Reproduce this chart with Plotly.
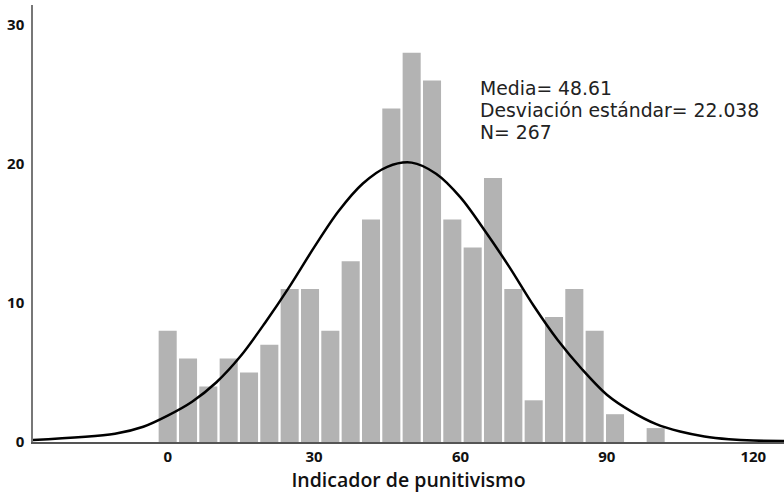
import plotly.graph_objects as go

# Histogram data (bin centers and counts)
bin_centers = [0, 4.17, 8.33, 12.5, 16.67, 20.83, 25, 29.17, 33.33, 37.5, 41.67, 45.83,
               50, 54.17, 58.33, 62.5, 66.67, 70.83, 75, 79.17, 83.33, 87.5, 91.67, 95.83, 100]
counts = [8, 6, 4, 6, 5, 7, 11, 11, 8, 13, 16, 24, 28, 26, 16, 14, 19, 11, 3, 9, 11, 8, 2, 0, 1]

# Normal curve points
curve_x = [-27.6, -10.8, -5, 0, 5, 10, 15, 20, 25, 30, 35, 40, 45, 50, 55, 60, 65,
           70, 75, 80, 85, 90, 95, 100, 105, 110, 115, 120, 126.3]
curve_y = [0.15, 0.6, 1.1, 1.9, 2.9, 4.3, 6.2, 8.6, 11.2, 14.0, 16.6, 18.6, 19.8, 20.1,
           19.3, 17.6, 15.2, 12.6, 9.8, 7.3, 5.2, 3.4, 2.2, 1.3, 0.75, 0.4, 0.2, 0.1, 0.08]

x_ticks = [0, 30, 60, 90, 120]
y_ticks = [0, 10, 20, 30]
x_title = "Indicador de punitivismo"
stats_lines = ["Media= 48.61", "Desviación estándar= 22.038", "N= 267"]

L, R, T, B = 33, 0, 5, 53
W, H = 784, 495
PW, PH = W - L - R, H - T - B

fig = go.Figure()
fig.add_trace(go.Bar(x=bin_centers, y=counts, width=3.7,
                     marker=dict(color="#b3b3b3", line=dict(width=0)),
                     showlegend=False, hoverinfo="x+y"))
fig.add_trace(go.Scatter(x=curve_x, y=curve_y, mode="lines",
                         line=dict(color="black", width=2.5, shape="spline", smoothing=0.9),
                         showlegend=False, hoverinfo="skip"))

annotations = []
for i, line in enumerate(stats_lines):
    yc = 88 + i * 22.5  # pixel centre of each line
    annotations.append(dict(text=line, xref="paper", yref="paper",
                            x=(478 - L) / PW, y=(H - B - yc) / PH,
                            xanchor="left", yanchor="middle", align="left", showarrow=False,
                            font=dict(family="DejaVu Sans", size=18.8, color="#222")))

fig.update_layout(
    width=W, height=H,
    margin=dict(l=L, r=R, t=T, b=B),
    paper_bgcolor="white", plot_bgcolor="white",
    font=dict(family="Open Sans", color="#111"),
    xaxis=dict(range=[-27.6, 126.3], tickvals=x_ticks, showgrid=False, zeroline=False,
               showline=True, linecolor="#555", linewidth=1.5, ticks="", automargin=False,
               tickfont=dict(family="Open Sans", size=15, weight=700, color="#111"),
               title=dict(text=x_title, standoff=4,
                          font=dict(family="Open Sans", size=19.5, weight=600, color="#111"))),
    yaxis=dict(range=[0, 31.44], tickvals=y_ticks, showgrid=False, zeroline=False,
               showline=True, linecolor="#777", linewidth=1.5, ticks="", automargin=False,
               ticklabelstandoff=4,
               tickfont=dict(family="Open Sans", size=15, weight=700, color="#111")),
    annotations=annotations,
)

fig.write_html("out.html", config={"displayModeBar": False},
               post_script="document.body.style.margin='0';document.body.style.overflow='hidden';")
